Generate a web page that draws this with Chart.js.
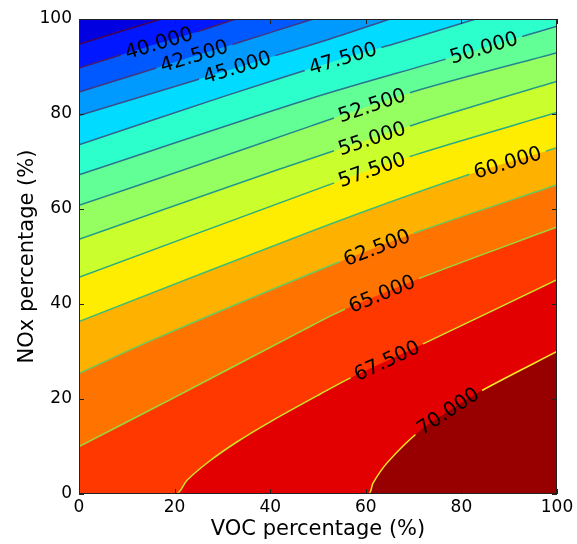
<!DOCTYPE html>
<html><head><meta charset="utf-8">
<script src="https://cdn.jsdelivr.net/npm/chart.js@4/dist/chart.umd.min.js"></script>
<style>html,body{margin:0;padding:0;background:#fff}#wrap{width:577px;height:544px}</style>
</head><body><div id="wrap"><canvas id="c" width="577" height="544"></canvas></div>
<script>
// ---- data ----
const levels = [37.5, 40, 42.5, 45, 47.5, 50, 52.5, 55, 57.5, 60, 62.5, 65, 67.5, 70];
// contour lines: [VOC %, NOx %]
const c375 = [[0,94.7],[17.2,100]];
const c400 = [[0,89.7],[16.7,94.9],[25.3,97.5],[32.8,100]];
const c425 = [[0,84.6],[16.5,89.8],[24.1,92.2],[32.6,94.8],[49,100]];
const c450 = [[0,79.7],[26.6,87.8],[42.1,92.6],[52.5,95.8],[65.1,100]];
const c475 = [[0,73.5],[30,83.6],[55.2,91.7],[66,94.8],[83,100]];
const c500 = [[0,67.2],[48.3,83.2],[76.2,91.4],[100,98.5]];
const c525 = [[0,60.8],[21.8,68.2],[48.3,77.4],[69.9,84.7],[100,92.9]];
const c550 = [[0,53.6],[41.4,68.2],[69.9,77.7],[100,86.9]];
const c575 = [[0,45.6],[50.4,64.4],[70.3,71.4],[100,80.3]];
const c600 = [[0,36.3],[50.4,56.0],[81.4,67.2],[100,72.9]];
const c625 = [[0,25.4],[15.3,32.4],[50.4,47.2],[70.9,55.2],[100,65.1]];
const c650 = [[0,10.0],[19,19.8],[46.9,34.5],[55.2,38.7],[72,45.7],[100,56.2]];
const c675 = [[0,0],[20.3,0],[22.6,2.9],[27.4,7.0],[33.1,11.0],[40,15.2],[50.4,21.0],[57.1,24.6],[72,31.6],[100,45.1]];
const c700 = [[0,0],[60.5,0],[61.5,2.3],[64.4,6.5],[70.7,12.8],[77.2,17.4],[84.5,21.9],[100,30.0]];
const contours = [c375,c400,c425,c450,c475,c500,c525,c550,c575,c600,c625,c650,c675,c700];
// x position (VOC %) of each inline contour label (null = no label)
const labelX = [null, 16.7, 24.1, 33.1, 55.2, 84.7, 61.3, 61.3, 61.3, 89.7, 62.3, 63.4, 64.4, 77.2];
const xTicks = [0, 20, 40, 60, 80, 100];
const yTicks = [0, 20, 40, 60, 80, 100];
const xTitle = 'VOC percentage (%)';
const yTitle = 'NOx percentage (%)';

// ---- colour maps ----
function clamp(v){return Math.max(0,Math.min(1,v));}
function jet(t){
  let r,g,b;
  r = t<0.35?0:t<0.66?(t-0.35)/0.31:t<0.89?1:1-0.5*(t-0.89)/0.11;
  g = t<0.125?0:t<0.375?(t-0.125)/0.25:t<0.64?1:t<0.91?1-(t-0.64)/0.27:0;
  b = t<0.11?0.5+0.5*t/0.11:t<0.34?1:t<0.65?1-(t-0.34)/0.31:0;
  return `rgb(${Math.round(clamp(r)*255)},${Math.round(clamp(g)*255)},${Math.round(clamp(b)*255)})`;
}
const vir = ['#440154','#482475','#414487','#355f8d','#2a788e','#21918c','#22a884','#44bf70','#7ad151','#bddf26','#fde725'];
function hex(h){return [1,3,5].map(i=>parseInt(h.substr(i,2),16));}
function viridis(t){
  const p=t*10, i=Math.min(9,Math.floor(p)), f=p-i;
  const a=hex(vir[i]), b=hex(vir[i+1]);
  return `rgb(${a.map((v,j)=>Math.round(v+(b[j]-v)*f)).join(',')})`;
}
const bandColor = i => jet(0.084 + 0.0639*i);

const FONT = 'DejaVu Sans';
const LABEL_FONT = `20px "${FONT}"`;

function interpY(pts, x){
  for(let i=0;i<pts.length-1;i++){
    const a=pts[i], b=pts[i+1];
    if(x>=a[0] && x<=b[0] && b[0]>a[0]){ const t=(x-a[0])/(b[0]-a[0]); return a[1]+t*(b[1]-a[1]); }
  }
  return pts[pts.length-1][1];
}
function labelGeom(chart, k){
  const xs=chart.scales.x, ys=chart.scales.y, pts=contours[k], x=labelX[k];
  const cx=xs.getPixelForValue(x), cy=ys.getPixelForValue(interpY(pts,x));
  const x1=xs.getPixelForValue(x-3), y1=ys.getPixelForValue(interpY(pts,x-3));
  const x2=xs.getPixelForValue(x+3), y2=ys.getPixelForValue(interpY(pts,x+3));
  const ang=Math.atan2(y2-y1,x2-x1);
  chart.ctx.save(); chart.ctx.font=LABEL_FONT;
  const w=chart.ctx.measureText(levels[k].toFixed(3)).width; chart.ctx.restore();
  return {cx,cy,ang,w};
}

const contourPlugin = {
  id:'contourExtras',
  beforeDraw(chart){
    const {ctx, chartArea:a} = chart;
    ctx.save(); ctx.fillStyle = bandColor(14);
    ctx.fillRect(a.left, a.top, a.right-a.left, a.bottom-a.top); ctx.restore();
  },
  beforeDatasetDraw(chart, args){
    const k=args.index, ctx=chart.ctx, a=chart.chartArea;
    ctx.save();
    ctx.beginPath();
    ctx.rect(a.left, a.top, a.right-a.left, a.bottom-1.2-a.top);
    if(labelX[k]!=null){
      const g=labelGeom(chart,k);
      const hw=g.w/2+5, hh=8;
      const c=Math.cos(g.ang), s=Math.sin(g.ang);
      const corner=(u,v)=>[g.cx+u*c-v*s, g.cy+u*s+v*c];
      const p=[corner(-hw,-hh),corner(hw,-hh),corner(hw,hh),corner(-hw,hh)];
      ctx.moveTo(p[0][0],p[0][1]); for(let i=1;i<4;i++) ctx.lineTo(p[i][0],p[i][1]); ctx.closePath();
    }
    ctx.clip('evenodd');
  },
  afterDatasetDraw(chart){ chart.ctx.restore(); },
  afterDatasetsDraw(chart){
    const {ctx, chartArea:a} = chart, xs=chart.scales.x, ys=chart.scales.y;
    ctx.save();
    ctx.font=LABEL_FONT; ctx.fillStyle='#000'; ctx.textAlign='center'; ctx.textBaseline='middle';
    for(let k=0;k<levels.length;k++){
      if(labelX[k]==null) continue;
      const g=labelGeom(chart,k);
      ctx.save(); ctx.translate(g.cx,g.cy); ctx.rotate(g.ang);
      ctx.fillText(levels[k].toFixed(3),0,1); ctx.restore();
    }
    ctx.restore();
    ctx.save();
    ctx.strokeStyle='#222'; ctx.lineWidth=1;
    ctx.strokeRect(a.left+0.5,a.top+0.5,a.right-a.left-1,a.bottom-a.top-1);
    ctx.beginPath();
    xTicks.forEach(v=>{const x=Math.round(xs.getPixelForValue(v))+0.5;
      ctx.moveTo(x,a.bottom); ctx.lineTo(x,a.bottom-5); ctx.moveTo(x,a.top); ctx.lineTo(x,a.top+5);});
    yTicks.forEach(v=>{const y=Math.round(ys.getPixelForValue(v))+0.5;
      ctx.moveTo(a.left,y); ctx.lineTo(a.left+5,y); ctx.moveTo(a.right,y); ctx.lineTo(a.right-5,y);});
    ctx.stroke();
    ctx.restore();
  }
};

const datasets = contours.map((pts,k)=>({
  label: levels[k].toFixed(3),
  data: pts.map(p=>({x:p[0], y:p[1]})),
  borderColor: viridis(k/(levels.length-1)),
  borderWidth: 1.5,
  backgroundColor: bandColor(k),
  fill: 'end',
  pointRadius: 0,
  tension: 0.3
}));

const tickFont = {family: FONT, size: 17};
const titleFont = {family: FONT, size: 21};

new Chart(document.getElementById('c'), {
  type: 'line',
  data: { datasets },
  plugins: [contourPlugin],
  options: {
    responsive: false, animation: false, devicePixelRatio: 1,
    layout: { padding: { top: 19, right: 20, left: 0, bottom: 0 } },
    plugins: { legend: {display:false}, tooltip: {enabled:false},
      filler: { drawTime: 'beforeDatasetsDraw', propagate: false } },
    scales: {
      x: { type:'linear', min:0, max:100,
        afterBuildTicks: s => { s.ticks = xTicks.map(v=>({value:v})); },
        ticks: { font: tickFont, color:'#000', padding: 3, maxRotation: 0, autoSkip:false },
        grid: { display:false, drawTicks:false }, border: { display:false },
        title: { display:true, text:xTitle, font:titleFont, color:'#000', padding:{top:0,bottom:2} },
        afterFit: s => { s.height = 50; } },
      y: { type:'linear', min:0, max:100,
        afterBuildTicks: s => { s.ticks = yTicks.map(v=>({value:v})); },
        ticks: { font: tickFont, color:'#000', padding: 7, autoSkip:false },
        grid: { display:false, drawTicks:false }, border: { display:false },
        title: { display:true, text:yTitle, font:titleFont, color:'#000', padding:{top:15,bottom:0} },
        afterFit: s => { s.width = 79; } }
    }
  }
});
</script></body></html>
